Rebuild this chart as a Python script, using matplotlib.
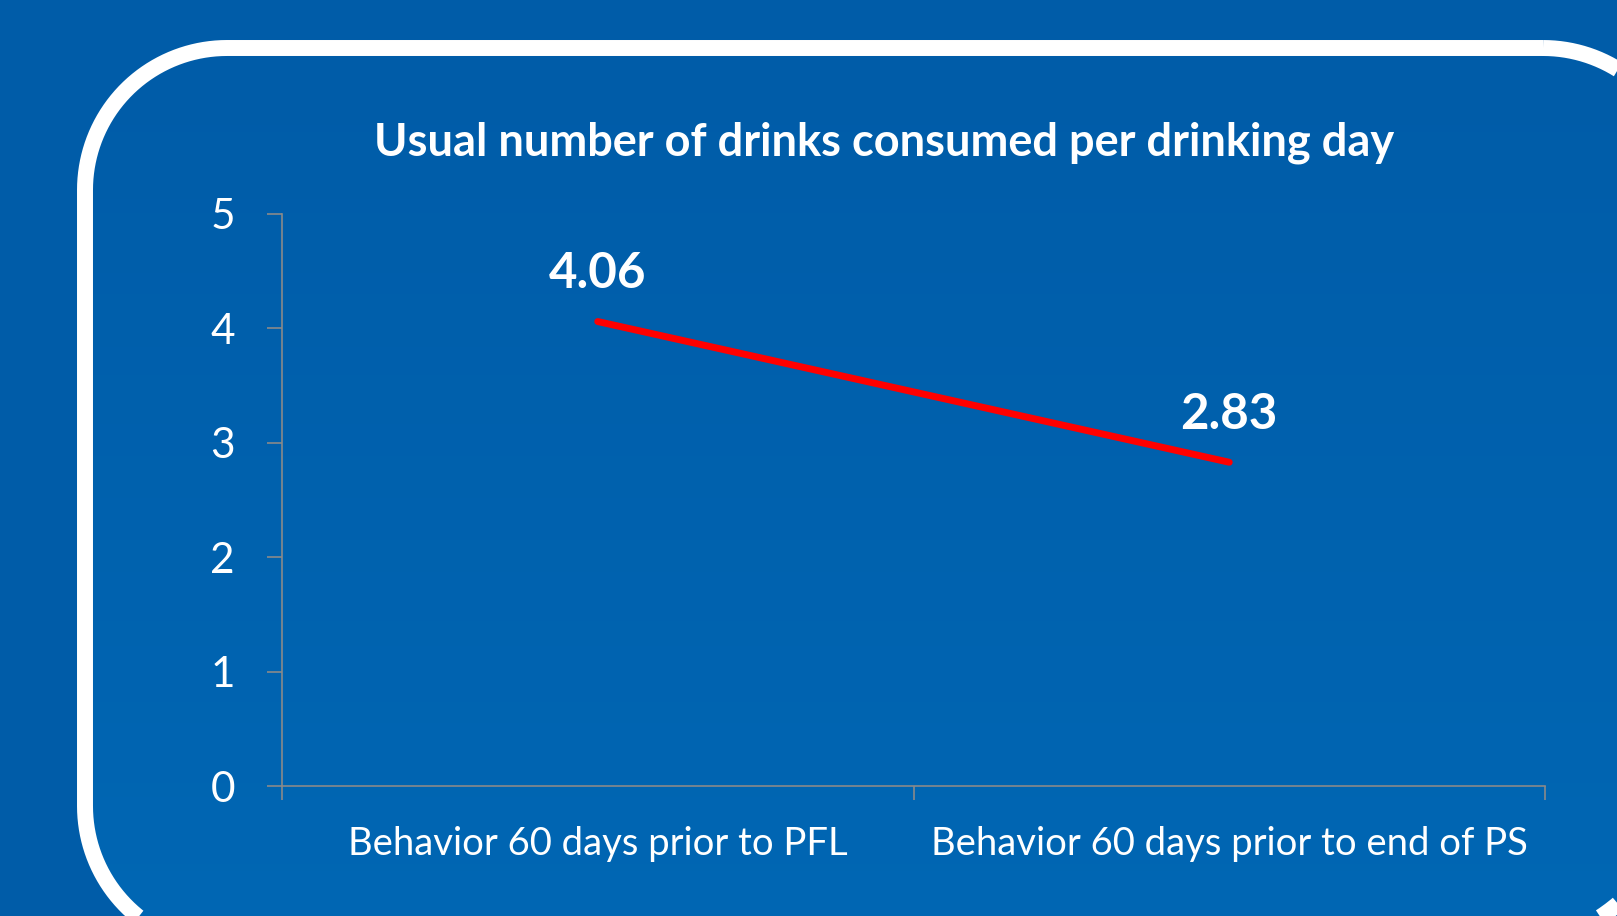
import numpy as np
import matplotlib
matplotlib.use("Agg")
import matplotlib.pyplot as plt
from matplotlib.patches import Polygon

# ------------------------------
# Data
# ------------------------------
periods = ["Behavior 60 days prior to PFL", "Behavior 60 days prior to end of PS"]
drinks = [4.06, 2.83]
y_ticks = [0, 1, 2, 3, 4, 5]
title = "Usual number of drinks consumed per drinking day"

# ------------------------------
# Style
# ------------------------------
plt.rcParams["font.family"] = ["Lato", "DejaVu Sans"]
bg_color = "#005CA8"
axis_color = "#8A8A8A"
W, H = 1617, 916


def rounded_rect(x0, y0, x1, y1, radii, n=40):
    """Outline of a rounded rectangle in pixel units (y pointing down).
    radii: top-right, bottom-right, bottom-left, top-left."""
    r_tr, r_br, r_bl, r_tl = radii
    corners = [(x1 - r_tr, y0 + r_tr, r_tr, -90, 0),
               (x1 - r_br, y1 - r_br, r_br, 0, 90),
               (x0 + r_bl, y1 - r_bl, r_bl, 90, 180),
               (x0 + r_tl, y0 + r_tl, r_tl, 180, 270)]
    pts = []
    for cx, cy, r, a0, a1 in corners:
        t = np.radians(np.linspace(a0, a1, n))
        pts.append(np.column_stack([cx + r * np.cos(t), cy + r * np.sin(t)]))
    return np.vstack(pts)


fig = plt.figure(figsize=(W / 100, H / 100), dpi=100)
fig.patch.set_facecolor(bg_color)

# background layer in pixel units: rounded panel with soft vertical gradient
bg = fig.add_axes([0, 0, 1, 1])
grad = np.linspace(0, 1, 256).reshape(-1, 1)
cmap = matplotlib.colors.LinearSegmentedColormap.from_list("panel", ["#005CA8", "#0067B4"])
img = bg.imshow(grad, cmap=cmap, aspect="auto", extent=(85, 1685, 948, 48), zorder=1)
bg.set_xlim(0, W)
bg.set_ylim(H, 0)
bg.axis("off")

outline = rounded_rect(85, 48, 1685, 948, (142, 188, 142, 142))
clip = Polygon(outline, closed=True, facecolor="none", edgecolor="none",
               transform=bg.transData)
bg.add_patch(clip)
img.set_clip_path(clip)
bg.add_patch(Polygon(outline, closed=True, facecolor="none", edgecolor="white",
                     linewidth=11.5, zorder=3))

# ------------------------------
# Line chart
# ------------------------------
ax = fig.add_axes([282 / W, 130 / H, (1545 - 282) / W, (786 - 214) / H])
ax.set_facecolor("none")
x = np.arange(len(periods))
ax.plot(x, drinks, color="#FF0000", linewidth=5, solid_capstyle="round")

for xi, val in zip(x, drinks):
    ax.annotate(f"{val:.2f}", (xi, val), xytext=(0, 24), textcoords="offset points",
                ha="center", va="baseline", color="white", fontsize=35.5,
                fontweight="bold")

ax.set_xlim(-0.5, len(periods) - 0.5)
ax.set_ylim(0, 5)
ax.set_yticks(y_ticks)
ax.set_xticks([-0.5, 0.5, 1.5])
ax.set_xticklabels([])
ax.set_xticks(x, minor=True)
ax.set_xticklabels(periods, minor=True)

for side in ["top", "right"]:
    ax.spines[side].set_visible(False)
for side in ["left", "bottom"]:
    ax.spines[side].set_color(axis_color)
    ax.spines[side].set_linewidth(1.2)

ax.tick_params(axis="y", direction="out", length=10.8, width=1.2, color=axis_color,
               labelcolor="white", labelsize=30.5, pad=23)
ax.tick_params(axis="x", which="major", direction="out", length=10, width=1.2,
               color=axis_color)
ax.tick_params(axis="x", which="minor", length=0, labelcolor="white",
               labelsize=27.5, pad=29)

fig.text(884 / W, (H - 155) / H, title, ha="center", va="baseline",
         color="white", fontsize=32.5, fontweight="bold")

plt.savefig("out.png", dpi=100, facecolor=fig.get_facecolor())
